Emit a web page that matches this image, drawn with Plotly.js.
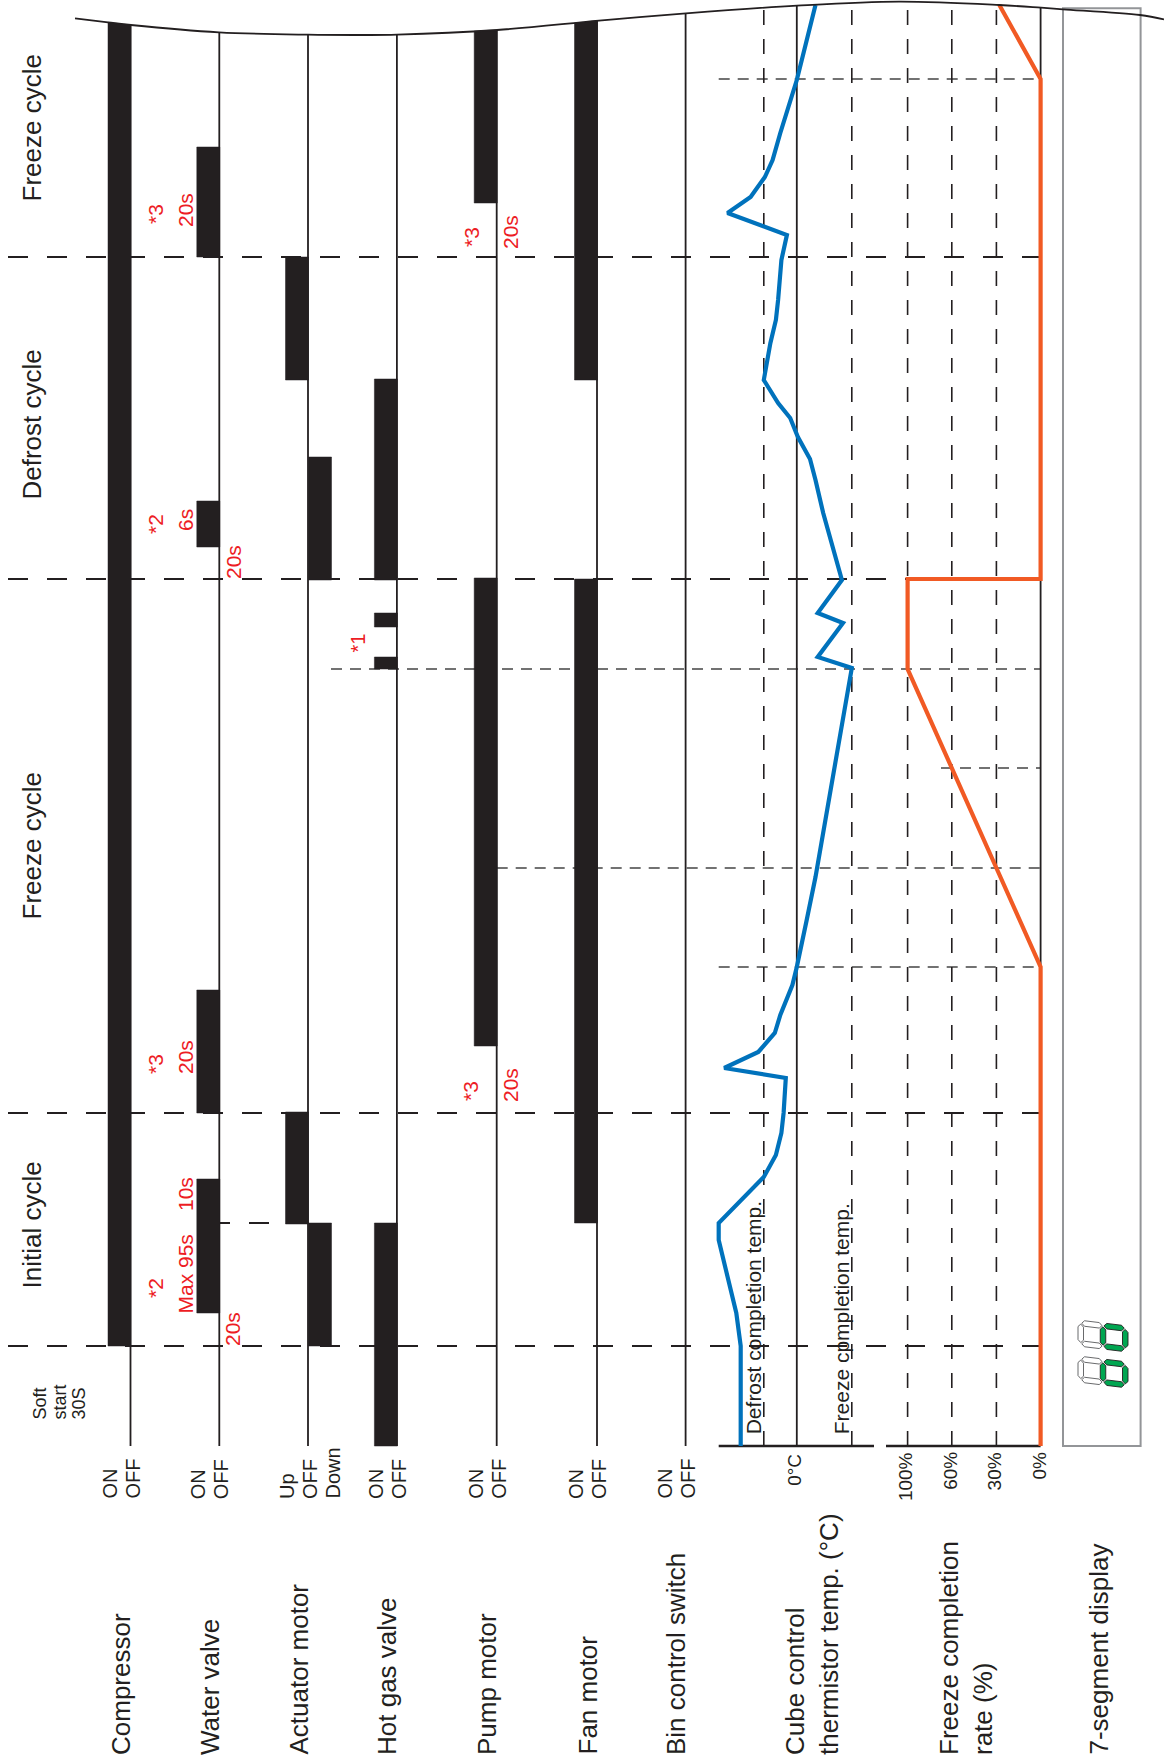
<!DOCTYPE html>
<html><head><meta charset="utf-8">
<script src="https://cdn.plot.ly/plotly-3.0.1.min.js"></script>
<style>html,body{margin:0;padding:0;background:#fff;}#chart{width:1164px;height:1764px;}</style>
</head><body><div id="chart"></div>
<script>
// ================= DATA (time t in diagram units, counted upward from the baseline) =================
const cycleLabels   = ['Initial cycle', 'Freeze cycle', 'Defrost cycle', 'Freeze cycle'];
const cycleStartT   = [100, 333, 867, 1189];
const cycleLabelT   = [221, 600, 1021, 1318];

const compressorOn   = [[100, null]];                       // null = continues past the break line
const waterValveOn   = [[133, 267], [333, 456], [899, 945], [1189, 1299]];
const actuatorUpOn   = [[222, 334], [1066, 1189]];
const actuatorDownOn = [[100, 223], [866, 989]];
const hotGasOn       = [[0, 223], [777, 789], [819, 833], [866, 1067]];
const pumpOn         = [[400, 868], [1243, null]];
const fanOn          = [[223, 867], [1066, null]];
const binSwitchOn    = [];

// cube control thermistor temperature (°C, relative scale)
const thermT = [0, 100, 133, 173, 206, 223, 249, 269, 291, 313, 333, 368, 378, 394, 413, 431, 461, 479, 526, 569,
                778, 789, 823, 833, 866, 933, 966, 987, 1009, 1028, 1043, 1066, 1103, 1126, 1146, 1186, 1211, 1233,
                1249, 1269, 1286, 1313, 1366, 1441];
const thermC = [5.1, 5.1, 5.5, 6.4, 7.1, 7.1, 4.8, 3.0, 1.9, 1.4, 1.2, 1.0, 6.6, 3.5, 2.0, 1.5, 0.4, 0.0, -0.9, -1.7,
                -5.0, -1.9, -4.2, -1.9, -4.1, -2.4, -1.7, -1.2, -0.1, 0.6, 1.7, 3.0, 2.4, 1.9, 1.7, 1.4, 0.9, 6.3,
                4.2, 2.9, 2.2, 1.5, 0.0, -1.7];
const defrostDoneC = 3;
const freezeDoneC  = -5;

// freeze completion rate (%)
const rateT = [0, 479, 578, 678, 777, 867, 867, 1367, 1441];
const rateP = [0, 0, 30, 60, 100, 100, 0, 0, 28];
const rateTicks = [100, 60, 30, 0];

// reference instants
const harvestT        = 777;        // *1
const rate30T         = 578;
const rate60T         = 678;
const zeroCrossT      = [479, 1367];
const actuatorSwitchT = 223;

// 7-segment display content (lit segments per digit, left to right)
const displaySegments = ['cdeg', 'cdeg'];

// ================= LAYOUT / STYLE =================
const PAGE_W = 1164, PAGE_H = 1764, BASE_Y = 1446;
const toT = py => BASE_Y - py;
const FONT = 'Liberation Sans, Arial, Helvetica, sans-serif';
const INK = '#231f20', RED = '#ed1c24', BLUE = '#0072bc', ORANGE = '#f15a24', GREEN = '#00a651', GREY = '#939598';

const LINE_X = {compressor:130.5, water:219.3, actuator:308, hotgas:396.9, pump:496.7, fan:597, bin:685.6};
const BAR_W = 23;
const ZERO_C_X = 796.8, PX_PER_C = 11;
const tempX = c => ZERO_C_X - PX_PER_C * c;
const RATE_TICK_X = {100:907.6, 60:951.8, 30:996.4, 0:1040.6};
const rateX = p => {
  const ks = [0, 30, 60, 100];
  for (let i = 0; i < ks.length - 1; i++) {
    if (p <= ks[i+1]) { const f = (p - ks[i]) / (ks[i+1] - ks[i]); return RATE_TICK_X[ks[i]] + f * (RATE_TICK_X[ks[i+1]] - RATE_TICK_X[ks[i]]); }
  }
  return RATE_TICK_X[100];
};
const LEFT_DASH_X = 8, RIGHT_X = 1040.6, THERM_X0 = 718.7, THERM_X1 = 874, RATE_X0 = 886;
const BOX = {x0:1063, x1:1140.6, top:8.3};

const BREAK_X = [75, 108, 131, 219, 308, 360, 397, 497, 599, 686, 797, 899, 999, 1041, 1063, 1140, 1164];
const BREAK_Y = [18.3, 22.3, 25, 32.3, 34.7, 35, 34.7, 30, 20.7, 13.3, 5.7, 1.7, 5, 7.7, 9.3, 15, 19.3];
function breakT(x) {
  let i = 0;
  while (i < BREAK_X.length - 2 && x > BREAK_X[i+1]) i++;
  const f = (x - BREAK_X[i]) / (BREAK_X[i+1] - BREAK_X[i]);
  return toT(BREAK_Y[i] + f * (BREAK_Y[i+1] - BREAK_Y[i]));
}

// ================= TRACES =================
const traces = [];

// solid vertical guide lines (state OFF lines, 0°C, 0 %)
const vx = [], vy = [];
[LINE_X.compressor, LINE_X.water, LINE_X.actuator, LINE_X.hotgas, LINE_X.pump, LINE_X.fan, LINE_X.bin, ZERO_C_X, RIGHT_X]
  .forEach(x => { vx.push(x, x, null); vy.push(0, breakT(x), null); });
traces.push({type:'scatter', mode:'lines', x:vx, y:vy, line:{color:INK, width:1.8}, hoverinfo:'skip'});

// state bars
function addBars(intervals, xl, xr) {
  const bx = [], by = [];
  intervals.forEach(([t0, t1]) => {
    const tl = t1 === null ? breakT(xl) : t1;
    const tr = t1 === null ? breakT(xr) : t1;
    bx.push(xl, xr, xr, xl, xl, null);
    by.push(t0, t0, tr, tl, t0, null);
  });
  if (bx.length) traces.push({type:'scatter', mode:'lines', x:bx, y:by, fill:'toself', fillcolor:INK,
    line:{color:INK, width:0.5}, hoverinfo:'skip'});
}
const onSide = x => [x - BAR_W + 0.5, x + 0.5];
addBars(compressorOn, ...onSide(LINE_X.compressor));
addBars(waterValveOn, ...onSide(LINE_X.water));
addBars(actuatorUpOn, ...onSide(LINE_X.actuator));
addBars(actuatorDownOn, LINE_X.actuator + 0.5, LINE_X.actuator + 0.5 + BAR_W);
addBars(hotGasOn, ...onSide(LINE_X.hotgas));
addBars(pumpOn, ...onSide(LINE_X.pump));
addBars(fanOn, ...onSide(LINE_X.fan));
addBars(binSwitchOn, ...onSide(LINE_X.bin));

// thermistor temperature and freeze completion rate
traces.push({type:'scatter', mode:'lines', x:thermC.map(tempX), y:thermT, line:{color:BLUE, width:4.2}, hoverinfo:'skip'});
traces.push({type:'scatter', mode:'lines', x:rateP.map(rateX), y:rateT, line:{color:ORANGE, width:4.2}, hoverinfo:'skip'});

// break line
traces.push({type:'scatter', mode:'lines', x:BREAK_X, y:BREAK_Y.map(toT), line:{color:INK, width:1.8, shape:'spline'}, hoverinfo:'skip'});

// ================= SHAPES =================
const shapes = [];
const hline = (t, x0, x1, dash, width, color) => shapes.push({type:'line', xref:'x', yref:'y', x0, x1, y0:t, y1:t, layer:'below', line:{color, width, dash}});
const vline = (x, dash, width, color) => shapes.push({type:'line', xref:'x', yref:'y', x0:x, x1:x, y0:0, y1:breakT(x), layer:'below', line:{color, width, dash}});
const LONG = '20px,19px', SHORT = '11px,8px', VDASH = '15px,14px';

cycleStartT.forEach(t => hline(t, LEFT_DASH_X, RIGHT_X, LONG, 2, INK));
hline(actuatorSwitchT, 210, LINE_X.actuator - 20, LONG, 2, INK);
hline(harvestT, 331, RIGHT_X, SHORT, 1.6, '#444');
hline(rate30T, LINE_X.pump, RIGHT_X, SHORT, 1.6, '#444');
hline(rate60T, 941, RIGHT_X, SHORT, 1.6, '#444');
zeroCrossT.forEach(t => hline(t, THERM_X0, RIGHT_X, SHORT, 1.6, '#444'));

[tempX(defrostDoneC), tempX(freezeDoneC), RATE_TICK_X[100], RATE_TICK_X[60], RATE_TICK_X[30]]
  .forEach(x => vline(x, VDASH, 1.6, INK));

hline(0, THERM_X0, THERM_X1, 'solid', 2.6, INK);
hline(0, RATE_X0, RIGHT_X, 'solid', 2.6, INK);
shapes.push({type:'rect', xref:'x', yref:'y', x0:BOX.x0, x1:BOX.x1, y0:0, y1:toT(BOX.top), layer:'below',
  line:{color:GREY, width:2}, fillcolor:'rgba(0,0,0,0)'});

// 7-segment digits
const DIGIT = {x0:1078, y0s:[1388, 1352], H:50, W:26, T:5.5, shear:0.12};
function segPoly(seg) {
  const {H, W, T} = DIGIT, h = T / 2, g = 1;
  const horiz = vc => { const u0 = h + g, u1 = W - h - g; return [[u0,vc],[u0+h,vc-h],[u1-h,vc-h],[u1,vc],[u1-h,vc+h],[u0+h,vc+h]]; };
  const vert = (uc, v0, v1) => [[uc,v0],[uc+h,v0+h],[uc+h,v1-h],[uc,v1],[uc-h,v1-h],[uc-h,v0+h]];
  switch (seg) {
    case 'a': return horiz(h);
    case 'g': return horiz(H / 2);
    case 'd': return horiz(H - h);
    case 'f': return vert(h, h + g, H / 2 - g);
    case 'b': return vert(W - h, h + g, H / 2 - g);
    case 'e': return vert(h, H / 2 + g, H - h - g);
    case 'c': return vert(W - h, H / 2 + g, H - h - g);
  }
}
displaySegments.forEach((lit, di) => {
  const y0 = DIGIT.y0s[di];
  'abcdefg'.split('').forEach(seg => {
    const pts = segPoly(seg).map(([u, v]) => {
      const px = DIGIT.x0 + v;
      const py = y0 - (u + DIGIT.shear * (DIGIT.H - v));
      return px.toFixed(2) + ',' + toT(py).toFixed(2);
    });
    const on = lit.indexOf(seg) >= 0;
    shapes.push({type:'path', xref:'x', yref:'y', path:'M' + pts.join('L') + 'Z',
      fillcolor: on ? GREEN : '#ffffff', line:{color: on ? INK : '#58595b', width: on ? 0.9 : 0.9}});
  });
});

// ================= TEXT =================
const ann = [];
function addText(text, x, pageY, size, color, yanchor, extra) {
  ann.push(Object.assign({text, x, y: toT(pageY), xref:'x', yref:'y', showarrow:false, textangle:-90,
    xanchor:'center', yanchor, align:'left', borderpad:0, borderwidth:0,
    font:{family:FONT, size, color}}, extra || {}));
}
// cycle names
cycleLabels.forEach((s, i) => ann.push({text:s, x:31.5, y:cycleLabelT[i], xref:'x', yref:'y', showarrow:false,
  textangle:-90, xanchor:'center', yanchor:'middle', borderpad:0, font:{family:FONT, size:26, color:INK}}));
// soft start
addText('Soft', 39.5, 1420, 18, INK, 'bottom');
addText('start', 59, 1420, 18, INK, 'bottom');
addText('30S', 78.5, 1420, 18, INK, 'bottom');
// row names
[['Compressor',121],['Water valve',210],['Actuator motor',298],['Hot gas valve',387],['Pump motor',487],
 ['Fan motor',587],['Bin control switch',676],['Cube control<br>thermistor temp. (°C)',812],
 ['Freeze completion<br>rate (%)',966],['7-segment display',1098]]
  .forEach(([s, x]) => addText(s, x, 1755, 26, INK, 'bottom'));
// state labels
const stateLab = (x, words) => words.forEach(([w, dx]) => addText(w, x + dx, 1499, 20, INK, 'bottom'));
stateLab(LINE_X.compressor, [['ON',-21],['OFF',2]]);
stateLab(LINE_X.water, [['ON',-21],['OFF',2]]);
stateLab(LINE_X.actuator, [['Up',-21],['OFF',2],['Down',24]]);
stateLab(LINE_X.hotgas, [['ON',-21],['OFF',2]]);
stateLab(LINE_X.pump, [['ON',-21],['OFF',2]]);
stateLab(LINE_X.fan, [['ON',-21],['OFF',2]]);
stateLab(LINE_X.bin, [['ON',-21],['OFF',2]]);
addText('0°C', ZERO_C_X - 3, 1454, 19, INK, 'top');
rateTicks.forEach(p => addText(p + '%', RATE_TICK_X[p] - 2, 1452, 19, INK, 'top'));
addText('Defrost completion temp.', tempX(defrostDoneC) - 10, 1434, 21, INK, 'bottom');
addText('Freeze cpmpletion temp.', tempX(freezeDoneC) - 10, 1434, 21, INK, 'bottom');
// red notes
[['*2',155,1298],['Max 95s',185,1314],['10s',185,1211],['20s',232,1346],
 ['*3',155,1074],['20s',185,1074],['*3',470,1101],['20s',510,1102],
 ['*2',155,534],['6s',185,531],['20s',233,579],
 ['*3',155,224],['20s',185,227],['*3',471,247],['20s',510,249]]
  .forEach(([s, x, y]) => addText(s, x, y, 21, RED, 'bottom'));
addText('*1', 357, 653, 20, RED, 'bottom');

// ================= PLOT =================
const layout = {
  width: PAGE_W, height: PAGE_H, margin:{l:0, r:0, t:0, b:0},
  paper_bgcolor:'#ffffff', plot_bgcolor:'#ffffff', showlegend:false, hovermode:false,
  xaxis:{range:[0, PAGE_W], visible:false, fixedrange:true},
  yaxis:{range:[BASE_Y - PAGE_H, BASE_Y], visible:false, fixedrange:true},
  shapes, annotations: ann
};
Plotly.newPlot('chart', traces, layout, {staticPlot:true, displayModeBar:false});
</script>
</body></html>
